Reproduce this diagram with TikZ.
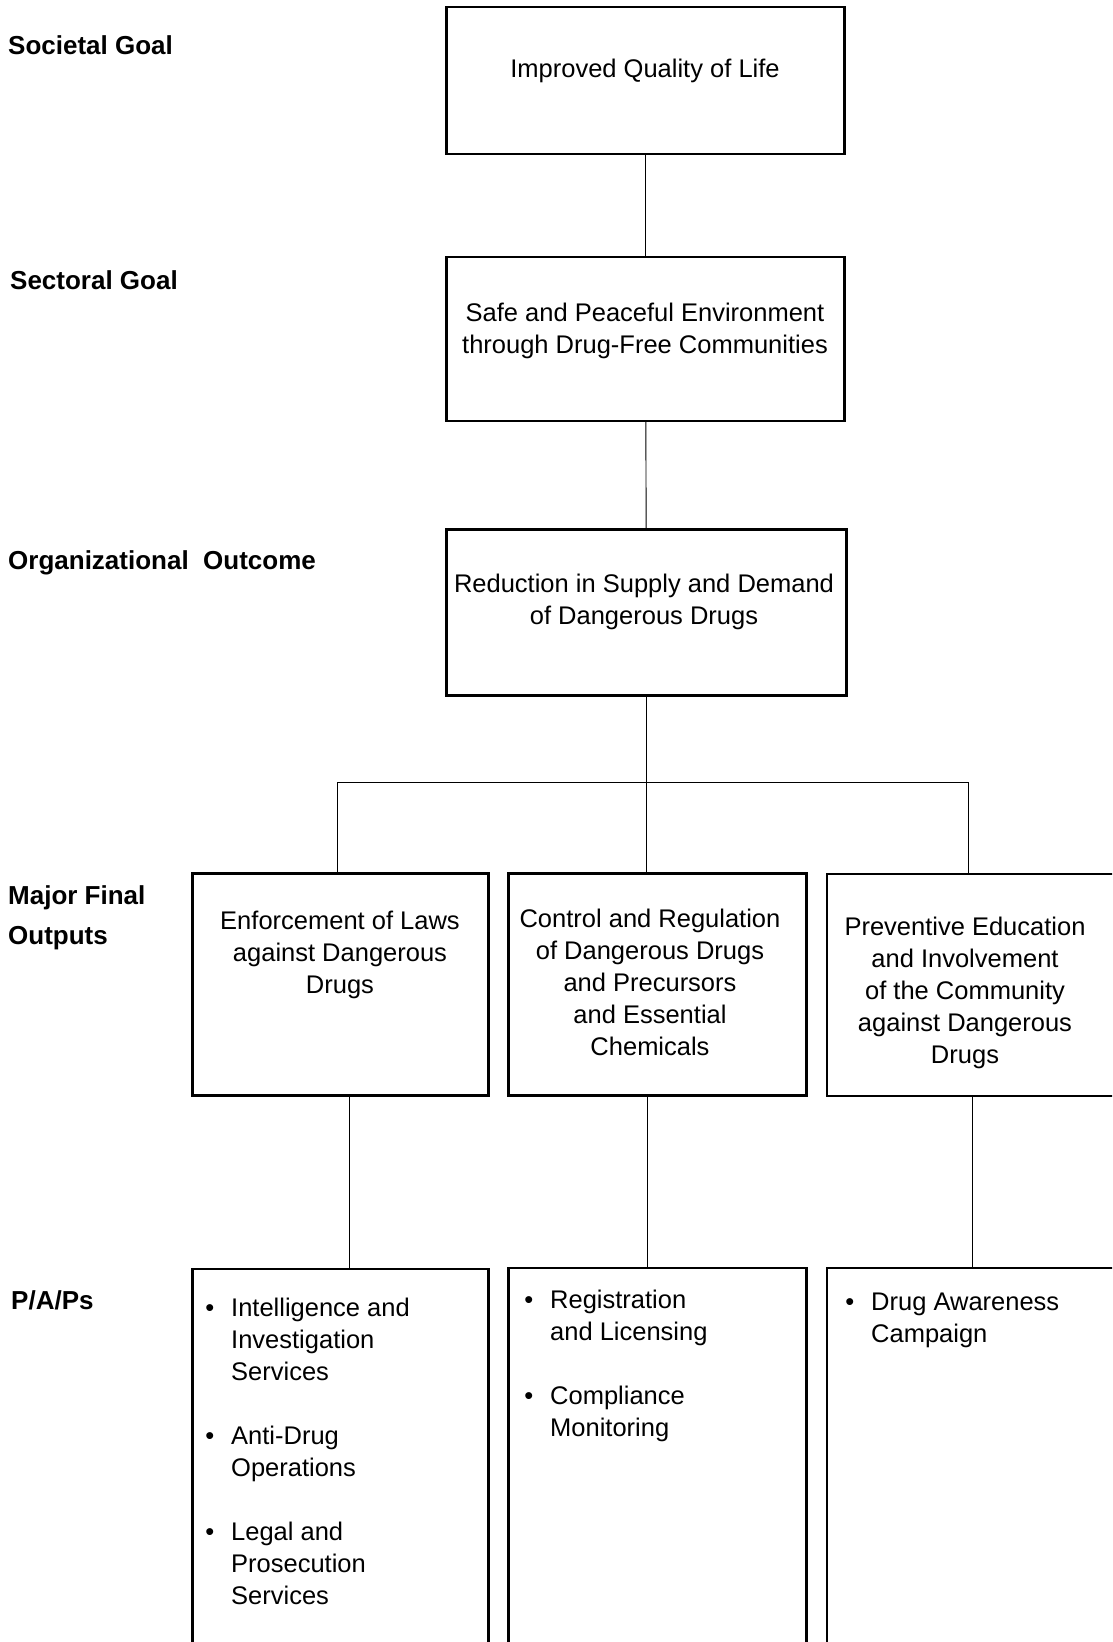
\documentclass[tikz,border=0pt]{standalone}
\usepackage{fontspec}
\setmainfont{Liberation Sans}
\usepackage{tikz}

\newcommand{\pitem}{\llap{\textbullet\hspace{17pt}}}

\begin{document}
\begin{tikzpicture}[x=1pt,y=-1pt,
        box/.style={draw,line width=2.2pt,inner sep=0pt},
        txt/.style={align=center,inner sep=0pt,font=\fontsize{25.5}{32}\selectfont},
        item/.style={align=left,anchor=north west,inner sep=0pt,font=\fontsize{25.5}{32}\selectfont},
        level/.style={align=left,anchor=west,inner sep=0pt,font=\fontsize{26}{40}\selectfont\bfseries},
        link/.style={line width=0.9pt}]

  \useasboundingbox (0,0) rectangle (1112,1642);
  \clip (0,0) rectangle (1112,1642);

  % levels on the left
  \node[level] (societal) at (8,45) {Societal Goal};
  \node[level] (sectoral) at (10,280) {Sectoral Goal};
  \node[level] (orgout) at (8,563) {Organizational\ \ Outcome};
  \node[level] (mfo) at (8,918) {Major Final\\Outputs};
  \node[level] (paps) at (11,1300) {P/A/Ps};

  % boxes
  \node[box,minimum width=398pt,minimum height=147pt] (goal) at (645.5,80.5) {};
  \node[box,minimum width=398pt,minimum height=164pt] (sect) at (645.5,339) {};
  \node[box,minimum width=400pt,minimum height=166pt] (org) at (646.5,612.5) {};
  \node[box,minimum width=296pt,minimum height=222pt] (mfo1) at (340.5,984.5) {};
  \node[box,minimum width=298pt,minimum height=222pt] (mfo2) at (657.5,984.5) {};
  \node[box,minimum width=312pt,minimum height=222pt] (mfo3) at (983,985) {};
  \node[box,minimum width=296pt,minimum height=440pt] (pap1) at (340.5,1489) {};
  \node[box,minimum width=298pt,minimum height=440pt] (pap2) at (657.5,1488) {};
  \node[box,minimum width=312pt,minimum height=440pt] (pap3) at (983,1488) {};

  % box texts
  \node[txt] (goaltxt) at (645,71) {Improved Quality of Life};
  \node[txt] (secttxt) at (645,331) {Safe and Peaceful Environment\\through Drug-Free Communities};
  \node[txt] (orgtxt) at (644,602) {Reduction in Supply and Demand\\of Dangerous Drugs};
  \node[txt] (mfo1txt) at (340,955) {Enforcement of Laws\\against Dangerous\\Drugs};
  \node[txt] (mfo2txt) at (650,982) {Control and Regulation\\of Dangerous Drugs\\and Precursors\\and Essential\\Chemicals};
  \node[txt] (mfo3txt) at (965,993) {Preventive Education\\and Involvement\\of the Community\\against Dangerous\\Drugs};

  \node[item] (intel) at (231,1298) {\pitem Intelligence and\\Investigation\\Services};
  \node[item] (anti) at (231,1426) {\pitem Anti-Drug\\Operations};
  \node[item] (legal) at (231,1522) {\pitem Legal and\\Prosecution\\Services};
  \node[item] (regis) at (550,1290) {\pitem Registration\\and Licensing};
  \node[item] (compl) at (550,1386) {\pitem Compliance\\Monitoring};
  \node[item] (aware) at (871,1293) {\pitem Drug Awareness\\Campaign};

  % connectors
  \coordinate (busL) at (337,782);
  \coordinate (busR) at (968,782);
  \coordinate (d1) at (349,0);
  \coordinate (d2) at (647,0);
  \coordinate (d3) at (972,0);

  \draw[link] (goal) -- (sect);
  \draw[link] (sect) -- (org);
  \draw[link] (org.south) -- (org.south |- mfo2.north);
  \draw[link] (busL) -- (busR);
  \draw[link] (busL) -- (busL |- mfo1.north);
  \draw[link] (busR) -- (busR |- mfo3.north);
  \draw[link] (mfo1.south -| d1) -- (pap1.north -| d1);
  \draw[link] (mfo2.south -| d2) -- (pap2.north -| d2);
  \draw[link] (mfo3.south -| d3) -- (pap3.north -| d3);

\end{tikzpicture}
\end{document}
